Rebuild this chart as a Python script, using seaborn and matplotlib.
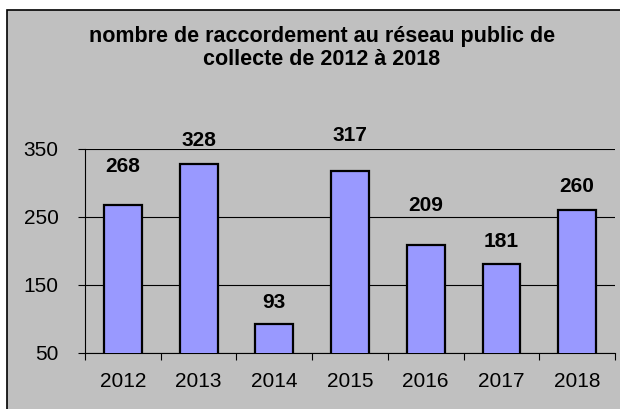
import matplotlib.pyplot as plt
import seaborn as sns
import pandas as pd
from matplotlib.patches import Rectangle

years = ["2012", "2013", "2014", "2015", "2016", "2017", "2018"]
raccordements = [268, 328, 93, 317, 209, 181, 260]
# label heights above each bar as in the original (pixels)
label_offsets = [38, 23, 21, 36, 39, 22, 24]

sns.set_style("white")
plt.rcParams['font.family'] = ['Liberation Sans', 'DejaVu Sans']
plt.rcParams['text.color'] = 'black'
plt.rcParams['xtick.color'] = 'black'
plt.rcParams['ytick.color'] = 'black'

df = pd.DataFrame({"annee": years, "nombre": raccordements})

fig = plt.figure(figsize=(6.2, 4.09), dpi=100)
fig.patch.set_facecolor("white")

# grey chart area with black frame (cropped at right/bottom)
fig.patches.append(Rectangle((7 / 620, -0.05), 1.0, (409 - 10) / 409 + 0.05,
                             transform=fig.transFigure, facecolor="#C0C0C0",
                             edgecolor="black", linewidth=1.2, zorder=-10))

ax = fig.add_axes([85 / 620, (409 - 353) / 409, 530 / 620, 204 / 409])
ax.set_facecolor("#C0C0C0")

sns.barplot(data=df, x="annee", y="nombre", color="#9999FF", width=0.5,
            edgecolor="black", linewidth=1.6, saturation=1, ax=ax, zorder=3)

ax.set_ylim(50, 350)
ax.set_xlim(-0.5, 6.5)
ax.set_yticks([50, 150, 250, 350])
ax.yaxis.grid(True, color="black", linewidth=0.8)
ax.set_axisbelow(True)

for s in ["top", "right"]:
    ax.spines[s].set_visible(False)
for s in ["left", "bottom"]:
    ax.spines[s].set_color("black")
    ax.spines[s].set_linewidth(0.8)

ax.tick_params(axis="y", which="major", left=True, length=5, width=0.8,
               labelsize=15, pad=14, color="black")
ax.tick_params(axis="x", which="major", length=0, labelsize=15, pad=14)
ax.set_xticks([i - 0.5 for i in range(len(years) + 1)], minor=True)
ax.tick_params(axis="x", which="minor", bottom=True, length=5, width=0.8,
               color="black")

for i, (v, off) in enumerate(zip(raccordements, label_offsets)):
    ax.annotate(str(v), (i, v), xytext=(0, off), textcoords="offset pixels",
                ha="center", va="center", fontsize=15, fontweight="bold",
                annotation_clip=False, zorder=5)

ax.set_xlabel("")
ax.set_ylabel("")

fig.text(322 / 620, (409 - 48) / 409,
         "nombre de raccordement au réseau public de\ncollecte de 2012 à 2018",
         ha="center", va="center", fontsize=15.5, fontweight="bold",
         linespacing=1.15)

fig.savefig("out.png", dpi=100)
